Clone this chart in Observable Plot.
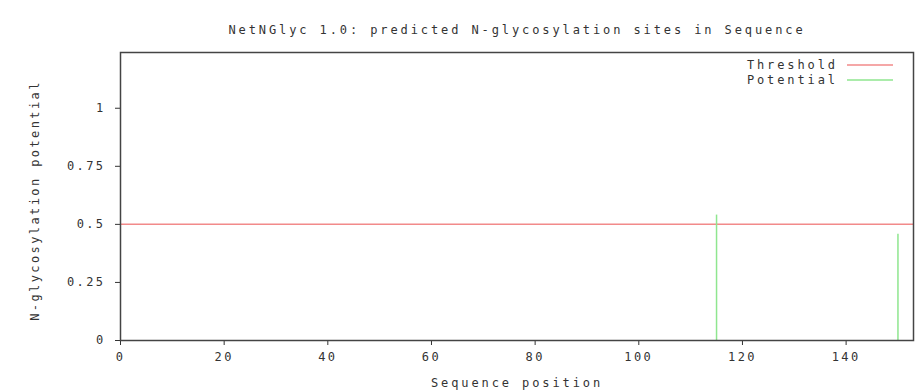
<!DOCTYPE html>
<html>
<head>
<meta charset="utf-8">
<script src="https://cdn.jsdelivr.net/npm/d3@7"></script>
<script src="https://cdn.jsdelivr.net/npm/@observablehq/plot@0.6"></script>
<style>
  html, body { margin: 0; padding: 0; background: #ffffff; }
  #chart { width: 924px; height: 391px; }
</style>
</head>
<body>
<div id="chart"></div>
<script>
// ---- data ----
const titleText = "NetNGlyc 1.0: predicted N-glycosylation sites in Sequence";
const xLabel = "Sequence position";
const yLabel = "N-glycosylation potential";
const sitePositions = [115, 150];
const sitePotentials = [0.54, 0.457];
const thresholdValue = [0.5];
const xTicks = [0, 20, 40, 60, 80, 100, 120, 140];
const yTicks = [0, 0.25, 0.5, 0.75, 1];
const legendLabels = ["Threshold", "Potential"];
const legendColors = ["#f28a8a", "#8fe68f"];

const sites = sitePositions.map((p, i) => ({pos: p, value: sitePotentials[i]}));

const FONT = "'DejaVu Sans Mono', 'Liberation Mono', monospace";
const TEXT = "#333333";

function legendMark(index, scales, values, dimensions) {
  const {width, marginRight, marginTop} = dimensions;
  const right = width - marginRight;
  const g = d3.create("svg:g");
  legendLabels.forEach((lab, i) => {
    const y = marginTop + 13 + i * 15;
    g.append("line")
      .attr("x1", right - 66).attr("x2", right - 20)
      .attr("y1", y).attr("y2", y)
      .attr("stroke", legendColors[i]).attr("stroke-width", 1.5);
    g.append("text")
      .attr("x", right - 75).attr("y", y)
      .attr("dy", "0.35em")
      .attr("text-anchor", "end")
      .attr("font-family", FONT)
      .attr("font-size", 12)
      .attr("letter-spacing", "2.9px")
      .attr("fill", TEXT)
      .text(lab);
  });
  return g.node();
}

const chart = Plot.plot({
  width: 924,
  height: 391,
  marginLeft: 120,
  marginRight: 11,
  marginTop: 52,
  marginBottom: 51,
  style: {fontFamily: FONT, fontSize: "12px", color: TEXT, background: "#ffffff", letterSpacing: "2.4px"},
  x: {domain: [0, 153], ticks: xTicks, tickSize: 5, tickPadding: 7, label: null},
  y: {domain: [0, 1.24], ticks: yTicks, tickSize: 5, tickPadding: 10, label: null,
      tickFormat: d => String(d)},
  marks: [
    Plot.ruleY(thresholdValue, {y: d => d, stroke: legendColors[0], strokeWidth: 1.5}),
    Plot.ruleX(sites, {x: "pos", y1: 0, y2: "value", stroke: legendColors[1], strokeWidth: 1.5}),
    Plot.frame({stroke: "#444", strokeWidth: 1.5}),
    Plot.text([titleText], {text: d => d, frameAnchor: "top", dy: -22, fontSize: 12, fill: TEXT,
      lineAnchor: "middle", textAnchor: "middle", className: "wide-text"}),
    Plot.text([xLabel], {text: d => d, frameAnchor: "bottom", dy: 43, fontSize: 12, fill: TEXT,
      lineAnchor: "middle", textAnchor: "middle", className: "wide-text"}),
    Plot.text([yLabel], {text: d => d, frameAnchor: "left", dx: -85, dy: 4, rotate: -90, fontSize: 12, fill: TEXT,
      lineAnchor: "middle", textAnchor: "middle", className: "ylab-text"})
    ,
    legendMark
  ]
});
// wider letter spacing for title and axis labels (like the original's pixel font)
chart.querySelectorAll("g.wide-text text, g[aria-label='text'].wide-text text").forEach(t => {
  t.setAttribute("letter-spacing", "2.9px");
});
chart.querySelectorAll("g.ylab-text text").forEach(t => {
  t.setAttribute("letter-spacing", "2.4px");
});
document.getElementById("chart").appendChild(chart);
</script>
</body>
</html>
